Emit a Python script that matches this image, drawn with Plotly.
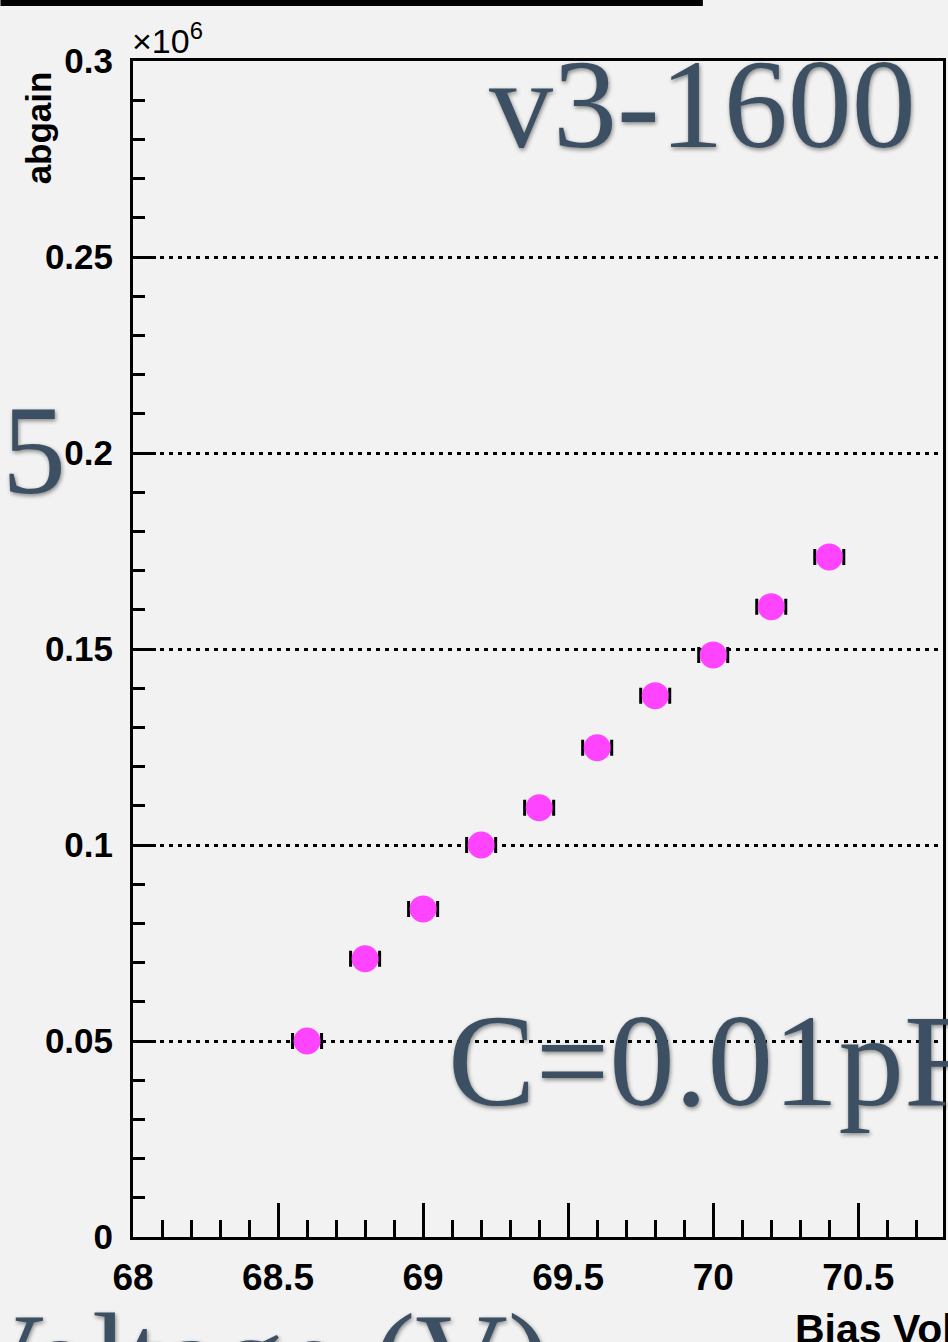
import plotly.graph_objects as go

# ---- data ----
bias_voltage = [68.6, 68.8, 69.0, 69.2, 69.4, 69.6, 69.8, 70.0, 70.2, 70.4]
abgain_e6 = [0.0500, 0.0710, 0.0837, 0.1000, 0.1095, 0.1248, 0.1381, 0.1485, 0.1608, 0.1735]
voltage_err = [0.05] * len(bias_voltage)

W, H = 948, 1342
L, R, T, B = 133, 2, 61, 105
PW, PH = W - L - R, H - T - B


def px(xp):
    return (xp - L) / PW


def py(yp):
    return (H - B - yp) / PH


fig = go.Figure()
fig.add_trace(go.Scatter(
    x=bias_voltage, y=abgain_e6, mode="markers",
    marker=dict(size=27, color="#ff44ff", line=dict(width=0)),
    error_x=dict(type="data", array=voltage_err, symmetric=True,
                 color="black", thickness=3, width=8),
    showlegend=False,
))

axis_font = dict(family="Liberation Sans, Arial, sans-serif", size=35, color="black", weight="bold")
serif = dict(family="Liberation Serif, Times New Roman, serif", size=128, color="#3d5063",
             shadow="1px 2px 4px rgba(0,0,0,0.45)")

fig.update_layout(
    width=W, height=H,
    margin=dict(l=L, r=R, t=T, b=B, pad=0),
    paper_bgcolor="#f2f2f2", plot_bgcolor="#f2f2f2",
    xaxis=dict(
        range=[68, 70.792], dtick=0.5, tick0=68,
        showline=True, mirror=True, linecolor="black", linewidth=3,
        ticks="inside", ticklen=34, tickwidth=2.5, tickcolor="black",
        minor=dict(dtick=0.1, ticks="inside", ticklen=17, tickwidth=2.5, tickcolor="black"),
        showgrid=False, zeroline=False,
        tickfont=dict(family="Liberation Sans, Arial, sans-serif", size=37, color="black", weight="bold"),
        ticklabelstandoff=6,
    ),
    yaxis=dict(
        range=[0, 0.3], dtick=0.05, tick0=0,
        showline=True, mirror=True, linecolor="black", linewidth=3,
        ticks="inside", ticklen=23, tickwidth=2.5, tickcolor="black",
        minor=dict(dtick=0.01, ticks="inside", ticklen=12, tickwidth=2.5, tickcolor="black"),
        showgrid=True, gridcolor="black", gridwidth=3, griddash="4px,5px",
        zeroline=False,
        tickfont=axis_font,
        ticklabelstandoff=10,
    ),
    shapes=[dict(type="rect", xref="paper", yref="paper",
                 x0=px(0), x1=px(705), y0=py(6), y1=py(0),
                 fillcolor="black", line=dict(width=0))],
)

annotations = [
    # axis titles / exponent (ROOT style)
    dict(text="abgain", x=px(38), y=py(128), textangle=-90, font=axis_font,
         xanchor="center", yanchor="middle"),
    dict(text="Bias Voltage (V)", x=px(795), y=py(1329), xanchor="left", yanchor="middle",
         font=dict(family="Liberation Sans, Arial, sans-serif", size=41, color="black", weight="bold")),
    dict(text="×10<sup>6</sup>", x=px(130), y=py(62), xanchor="left", yanchor="bottom",
         font=dict(family="Liberation Sans, Arial, sans-serif", size=34, color="black")),
    # slide overlay text
    dict(text="v3-1600", x=px(705), y=py(104), xanchor="center", yanchor="middle", font=serif),
    dict(text="5", x=px(34), y=py(450), xanchor="center", yanchor="middle", font=serif),
    dict(text="C=0.01pF", x=px(447), y=py(1060), xanchor="left", yanchor="middle",
         font=dict(serif, size=131)),
    dict(text="Voltage (V)", x=px(554), y=py(1358), xanchor="right", yanchor="middle", font=serif),
]
for a in annotations:
    a.update(xref="paper", yref="paper", showarrow=False)
fig.update_layout(annotations=annotations)

fig.write_html("out.html")
